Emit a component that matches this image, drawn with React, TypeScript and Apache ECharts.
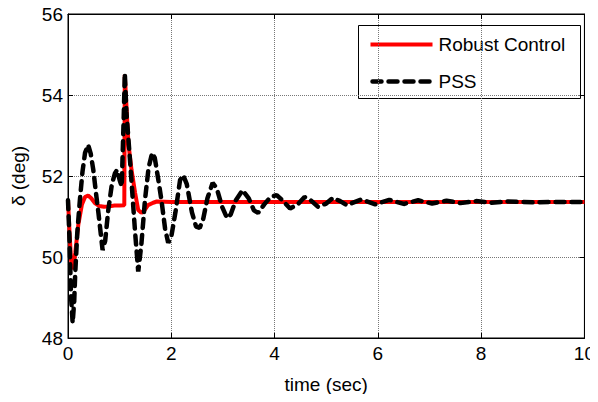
import React, { useEffect, useRef } from "react";
import * as echarts from "echarts";

const xTicks = [0, 2, 4, 6, 8, 10];
const yTicks = [48, 50, 52, 54, 56];
const seriesNames = ["Robust Control", "PSS"];

const rcTime = [0, 0.03, 0.06, 0.1, 0.14, 0.2, 0.27, 0.33, 0.39, 0.45, 0.52, 0.6, 0.7, 0.8, 0.9, 1.0, 1.09, 1.1, 1.17, 1.23, 1.3, 1.36, 1.42, 1.48, 1.55, 1.65, 1.72, 2.0, 4.0, 6.0, 8.0, 10.0];
const rcDelta = [51.4, 50.6, 49.9, 49.7, 50.1, 50.8, 51.3, 51.48, 51.52, 51.45, 51.33, 51.26, 51.24, 51.25, 51.27, 51.27, 51.28, 54.5, 52.8, 52.15, 51.58, 51.16, 51.09, 51.15, 51.28, 51.34, 51.37, 51.36, 51.36, 51.36, 51.36, 51.36];

const pssTime = [0, 0.03, 0.06, 0.09, 0.12, 0.14, 0.18, 0.23, 0.28, 0.33, 0.39, 0.44, 0.49, 0.54, 0.59, 0.67, 0.72, 0.78, 0.85, 0.91, 0.95, 1.0, 1.04, 1.08, 1.1, 1.13, 1.2, 1.3, 1.36, 1.42, 1.49, 1.56, 1.63, 1.68, 1.75, 1.81, 1.88, 1.94, 2.0, 2.08, 2.17, 2.23, 2.3, 2.4, 2.48, 2.55, 2.62, 2.7, 2.8, 2.88, 2.98, 3.08, 3.15, 3.25, 3.38, 3.5, 3.6, 3.68, 3.8, 3.92, 4.04, 4.15, 4.3, 4.45, 4.58, 4.7, 4.84, 5.0, 5.13, 5.27, 5.4, 5.68, 5.95, 6.22, 6.5, 6.78, 7.05, 7.33, 7.6, 7.9, 8.2, 8.5, 9.0, 9.5, 10.0];
const pssDelta = [51.4, 50.4, 49.0, 48.37, 48.9, 49.6, 50.6, 51.4, 52.1, 52.57, 52.77, 52.55, 52.15, 51.6, 51.08, 50.17, 50.4, 51.16, 51.8, 52.07, 52.15, 51.9, 51.74, 53.5, 54.54, 53.6, 52.4, 50.6, 49.64, 50.3, 51.4, 52.2, 52.57, 52.45, 51.9, 51.4, 50.7, 50.35, 50.5, 51.1, 51.9, 52.02, 51.8, 51.1, 50.75, 50.72, 50.95, 51.45, 51.83, 51.7, 51.25, 50.96, 51.05, 51.4, 51.65, 51.45, 51.15, 51.09, 51.3, 51.48, 51.53, 51.4, 51.2, 51.3, 51.48, 51.4, 51.24, 51.32, 51.46, 51.38, 51.28, 51.42, 51.3, 51.41, 51.31, 51.4, 51.32, 51.39, 51.33, 51.38, 51.34, 51.37, 51.35, 51.36, 51.36];

const FONT = "Liberation Sans, Arial, sans-serif";
const RED = "#ff0000";
const BLACK = "#000000";

export default function App() {
  const ref = useRef<HTMLDivElement>(null);
  useEffect(() => {
    if (!ref.current) return;
    const chart = echarts.init(ref.current, null, { renderer: "svg" });
    const rcData = rcTime.map((t, i) => [t, rcDelta[i]]);
    const pssData = pssTime.map((t, i) => [t, pssDelta[i]]);
    const axisCommon = {
      type: "value" as const,
      axisLine: { show: true, onZero: false, lineStyle: { color: "#000", width: 1 } },
      axisTick: { show: true, inside: true, length: 5, lineStyle: { color: "#000" } },
    };
    const blackDash = { color: BLACK, width: 4.5, type: [9, 7], cap: "round" as const };
    chart.setOption({
      animation: false,
      textStyle: { fontFamily: FONT },
      grid: { left: 68, right: 13, top: 14, bottom: 64, show: true, backgroundColor: "#fff", borderColor: "#000", borderWidth: 1 },
      xAxis: [
        {
          ...axisCommon,
          min: xTicks[0],
          max: xTicks[xTicks.length - 1],
          interval: 2,
          position: "bottom",
          name: "time (sec)",
          nameLocation: "middle",
          nameGap: 37,
          nameTextStyle: { fontSize: 19, color: "#000", fontFamily: FONT },
          axisLabel: { fontSize: 19, color: "#000", margin: 6, fontFamily: FONT },
          splitLine: { show: true, lineStyle: { color: "#777", type: "dotted", width: 1 } },
        },
        {
          ...axisCommon,
          min: xTicks[0],
          max: xTicks[xTicks.length - 1],
          interval: 2,
          position: "top",
          axisLabel: { show: false },
          splitLine: { show: false },
        },
      ],
      yAxis: [
        {
          ...axisCommon,
          min: yTicks[0],
          max: yTicks[yTicks.length - 1],
          interval: 2,
          position: "left",
          name: "δ (deg)",
          nameLocation: "middle",
          nameGap: 40,
          nameTextStyle: { fontSize: 19, color: "#000", fontFamily: FONT },
          axisLabel: { fontSize: 19, color: "#000", margin: 5, fontFamily: FONT },
          splitLine: { show: true, lineStyle: { color: "#777", type: "dotted", width: 1 } },
        },
        {
          ...axisCommon,
          min: yTicks[0],
          max: yTicks[yTicks.length - 1],
          interval: 2,
          position: "right",
          axisLabel: { show: false },
          splitLine: { show: false },
        },
      ],
      graphic: [
        {
          type: "group",
          left: 358,
          top: 25,
          z: 100,
          children: [
            { type: "rect", shape: { x: 0, y: 0, width: 222, height: 73 }, style: { fill: "#fff", stroke: "#000", lineWidth: 1 } },
            { type: "line", shape: { x1: 12, y1: 19, x2: 74, y2: 19 }, style: { stroke: RED, lineWidth: 4 } },
            { type: "text", x: 80, y: 19, style: { text: seriesNames[0], fontSize: 19, fontFamily: FONT, fill: "#000", verticalAlign: "middle", align: "left" } },
            { type: "line", shape: { x1: 14, y1: 56, x2: 72, y2: 56 }, style: { stroke: BLACK, lineWidth: 4.5, lineDash: [9, 7], lineCap: "round" } },
            { type: "text", x: 80, y: 56, style: { text: seriesNames[1], fontSize: 19, fontFamily: FONT, fill: "#000", verticalAlign: "middle", align: "left" } },
          ],
        },
      ],
      series: [
        {
          name: seriesNames[0],
          type: "line",
          data: rcData,
          showSymbol: false,
          symbol: "none",
          lineStyle: { color: RED, width: 4 },
          itemStyle: { color: RED },
          z: 2,
        },
        {
          name: seriesNames[1],
          type: "line",
          data: pssData,
          showSymbol: false,
          symbol: "none",
          lineStyle: blackDash,
          itemStyle: { color: BLACK },
          z: 3,
        },
      ],
    });
    return () => chart.dispose();
  }, []);
  return <div ref={ref} style={{ width: 598, height: 402, margin: -8 }} />;
}
